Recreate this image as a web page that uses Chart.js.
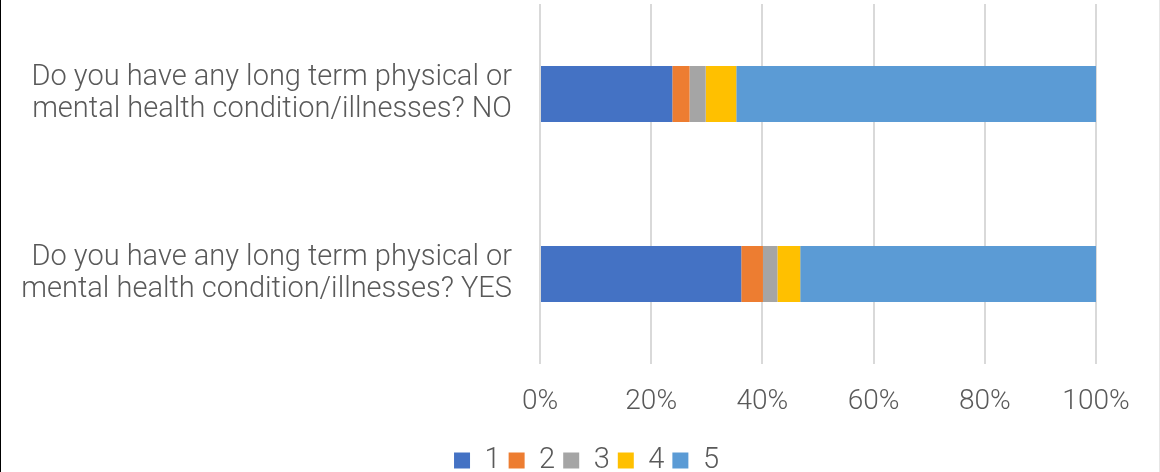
<!DOCTYPE html>
<html>
<head>
<meta charset="utf-8">
<script src="https://cdn.jsdelivr.net/npm/chart.js@4"></script>
<style>
  html, body { margin: 0; padding: 0; background: #fff; }
  #wrap { position: relative; width: 1160px; height: 472px; box-sizing: border-box; border-left: 1px solid #000; border-right: 1px solid #e6e6e6; }
</style>
</head>
<body>
<div id="wrap"><canvas id="grafico"></canvas></div>
<script>
// categorías (etiquetas en dos líneas)
const categorias = [
  ["Do you have any long term physical or", "mental health condition/illnesses? NO"],
  ["Do you have any long term physical or", "mental health condition/illnesses? YES"]
];

// porcentajes
const serie1 = [23.8, 36.2];
const serie2 = [3.1, 3.9];
const serie3 = [2.9, 2.6];
const serie4 = [5.5, 4.1];
const serie5 = [64.7, 53.2];

const nombresSeries = ["1", "2", "3", "4", "5"];
const colores = ["#4472c4", "#ed7d31", "#a5a5a5", "#ffc000", "#5b9bd5"];
const ticksX = [0, 20, 40, 60, 80, 100];

const valores = [serie1, serie2, serie3, serie4, serie5];
const gris = "#595959";
const fuente = "Roboto";

// mueve la leyenda un poco a la derecha, como en el original
const moverLeyenda = {
  id: "moverLeyenda",
  afterLayout(chart) {
    chart.legend.left += 38;
    chart.legend.right += 38;
  }
};

const ctx = document.getElementById("grafico").getContext("2d");

new Chart(ctx, {
  type: "bar",
  data: {
    labels: categorias,
    datasets: valores.map((v, i) => ({
      label: nombresSeries[i],
      data: v,
      backgroundColor: colores[i],
      borderWidth: 0,
      barPercentage: 0.5,
      categoryPercentage: 0.622
    }))
  },
  plugins: [moverLeyenda],
  options: {
    indexAxis: "y",
    responsive: true,
    maintainAspectRatio: false,
    animation: false,
    layout: { padding: { top: 4, right: 63, bottom: -13, left: 0 } },
    plugins: {
      tooltip: { enabled: false },
      legend: {
        position: "bottom",
        labels: {
          color: gris,
          font: { family: fuente, size: 29, weight: 300 },
          boxWidth: 16,
          boxHeight: 16,
          padding: 8
        }
      }
    },
    scales: {
      x: {
        stacked: true,
        min: 0,
        max: 100,
        afterBuildTicks: (scale) => {
          scale.ticks = ticksX.map((t) => ({ value: t }));
        },
        ticks: {
          color: gris,
          font: { family: fuente, size: 28, weight: 300 },
          padding: 21,
          maxRotation: 0,
          callback: (v) => v + "%"
        },
        grid: { color: "#d9d9d9", lineWidth: 2, drawTicks: false },
        border: { display: false },
        afterFit: (scale) => { scale.height = 74; }
      },
      y: {
        stacked: true,
        ticks: {
          color: gris,
          font: { family: fuente, size: 29, weight: 300, lineHeight: 1.12 },
          padding: 28
        },
        grid: { display: false, drawTicks: false },
        border: { display: false },
        afterFit: (scale) => {
          scale.width = 539;
          scale.paddingTop = 0;
          scale.paddingBottom = 0;
        }
      }
    }
  }
});
</script>
</body>
</html>
